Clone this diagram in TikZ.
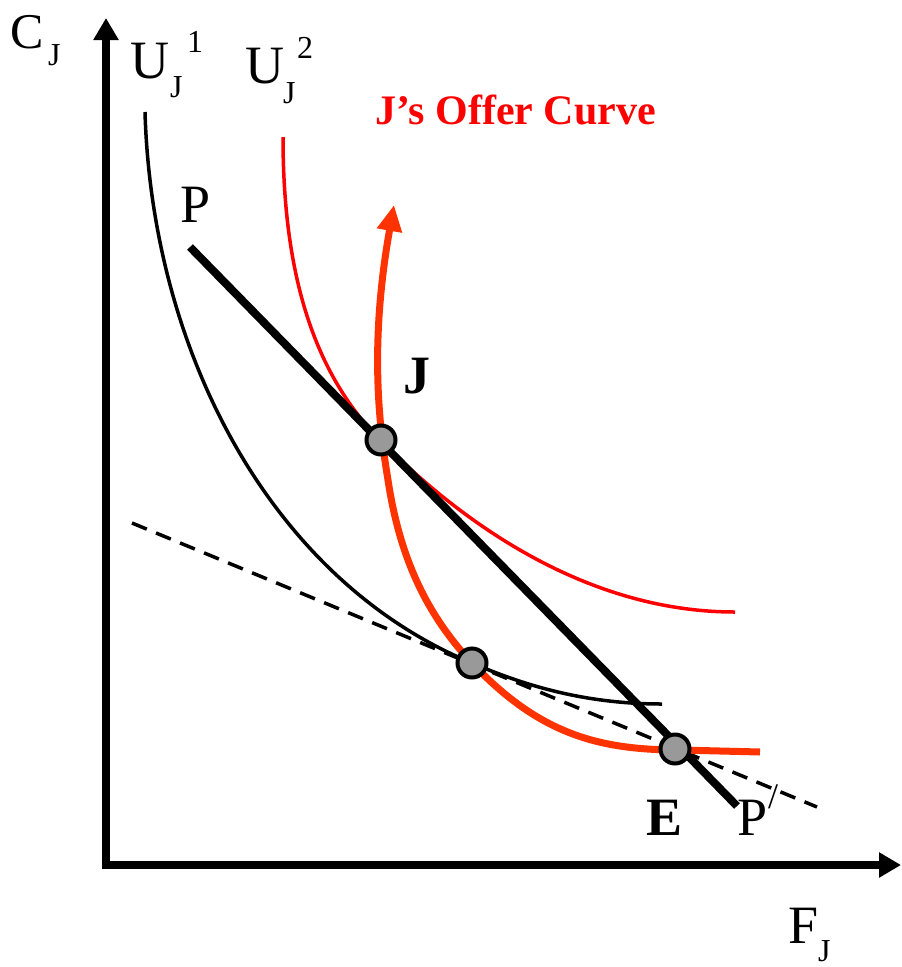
\documentclass[tikz,border=0pt]{standalone}
\usepackage{fontspec}
\setmainfont{Liberation Serif}
\usetikzlibrary{arrows.meta}
\definecolor{offerred}{HTML}{FF3300}
\definecolor{dotgray}{HTML}{999999}
\begin{document}
\begin{tikzpicture}[x=1pt,y=-1pt,
  big/.style={inner sep=0pt,anchor=base west,font=\fontsize{54}{54}\selectfont},
  small/.style={inner sep=0pt,anchor=base west,font=\fontsize{32}{32}\selectfont},
  axis/.style={line width=8pt,-{Triangle[length=22pt,width=24pt]}},
  ucurve/.style={line width=3.5pt},
  u2curve/.style={line width=3.5pt,color=red},
  offer/.style={line width=7pt,color=offerred,-{Triangle[length=26pt,width=24pt]}},
  budget/.style={line width=8pt},
  tangent/.style={line width=3.5pt,dash pattern=on 16pt off 10pt},
  dot/.style={circle,draw=black,fill=dotgray,line width=4pt,minimum size=29pt,inner sep=0pt}]
\useasboundingbox (0,0) rectangle (902,967);
% axes
\coordinate (O) at (106,868);
\coordinate (Ytip) at (106,18);
\coordinate (Xtip) at (901,865);
\draw[axis] (106,869) -- (Ytip);
\draw[axis] (102,865) -- (Xtip);
% labels of axes
\node[big,font=\fontsize{50}{50}\selectfont] (CJ) at (10,48) {C};
\node[small] (CJsub) at (48,65) {J};
\node[big] (FJ) at (788,943) {F};
\node[small] (FJsub) at (818,961) {J};
% U labels
\node[big] (U1) at (130,78) {U};
\node[small] (U1sub) at (170,97) {J};
\node[small] (U1sup) at (187,52) {1};
\node[big] (U2) at (245,83) {U};
\node[small] (U2sub) at (283,103) {J};
\node[small] (U2sup) at (297,58) {2};
% offer label
\node[inner sep=0pt,anchor=base west,text=red,font=\fontsize{42}{42}\selectfont\bfseries] (OfferLbl) at (375,124) {J’s Offer Curve};
% indifference curve U1
\coordinate (U1a) at (145,112);
\coordinate (U1b) at (662,704);
\draw[ucurve] (U1a) .. controls (152,352) and (271,580) .. (472,663)
  .. controls (521,684) and (582,704) .. (U1b);
% indifference curve U2
\coordinate (U2a) at (283,137);
\coordinate (U2b) at (735,612);
\draw[u2curve] (U2a) .. controls (283,287) and (320,379) .. (380,440)
  .. controls (460,521) and (585,612) .. (U2b);
% tangent dashed line
\coordinate (Da) at (132,523);
\coordinate (Db) at (817,807);
\draw[tangent] (Da) -- (Db);
% offer curve
\coordinate (Oa) at (760,752);
\coordinate (Otip) at (394,205);
\draw[offer] (Oa) -- (680,750)
  .. controls (600,750) and (540,735) .. (472,663)
  .. controls (428,616) and (400,560) .. (388,480)
  .. controls (378,420) and (370,340) .. (Otip);
% budget line
\coordinate (Pa) at (190,247);
\coordinate (Pb) at (737,806);
\draw[budget] (Pa) -- (Pb);
% points
\node[dot] (J) at (381,440) {};
\node[dot] (M) at (472,663) {};
\node[dot] (E) at (675,749) {};
% point labels
\node[big] (Plbl) at (180,222) {P};
\node[big,font=\fontsize{54}{54}\selectfont\bfseries] (Jlbl) at (403,393) {J};
\node[big,font=\fontsize{54}{54}\selectfont\bfseries] (Elbl) at (646,835) {E};
\node[big] (P2lbl) at (737,835) {P};
\node[inner sep=0pt,anchor=base west,font=\fontsize{36}{36}\selectfont] (P2sup) at (768,808) {/};
\end{tikzpicture}
\end{document}
